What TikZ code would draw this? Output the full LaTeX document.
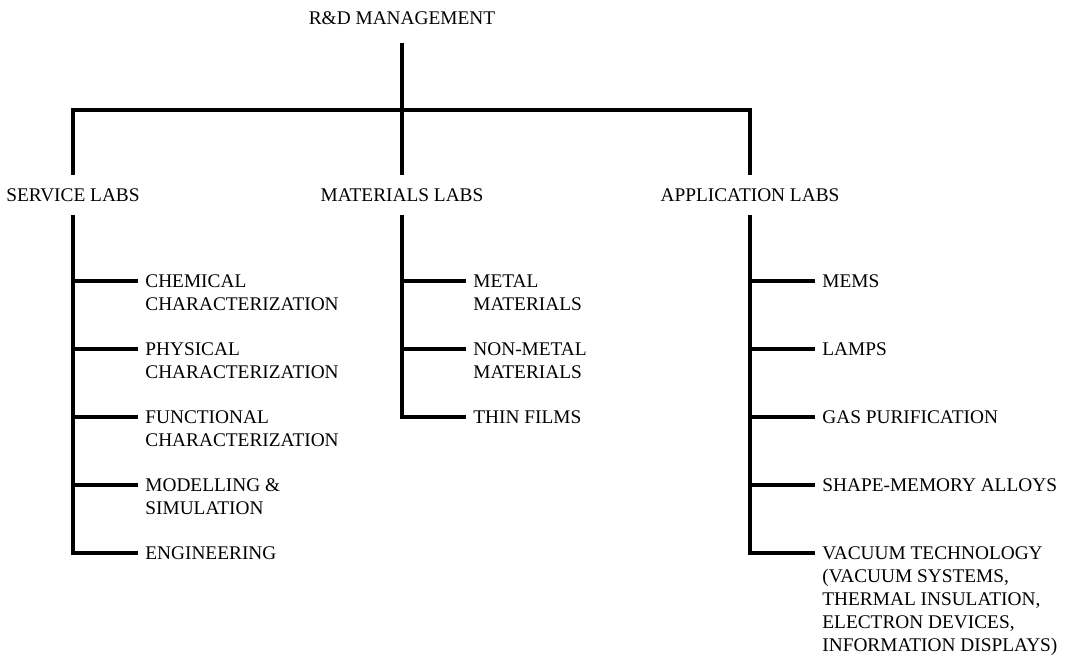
\documentclass[tikz,border=0pt]{standalone}
\usepackage{fontspec}
\setmainfont{Liberation Serif}
\usepackage{tikz}

\tikzset{
    head/.style={font=\fontsize{11}{13}\selectfont, text height=7.3pt, text depth=0pt, inner xsep=2pt, inner ysep=7.7pt},
    unit/.style={font=\fontsize{11}{13}\selectfont, align=left, anchor=north west, yshift=3.65pt, inner xsep=4pt, inner ysep=0pt},
    trunk/.style={line width=2.7pt, line join=miter},
    twig/.style={line width=2.1pt}
}

\begin{document}
\begin{tikzpicture}
        \useasboundingbox (0,0) rectangle (21.56,-13.1);
        % Management and the three lab groups
        \node[head, inner ysep=10.5pt] (root) at (8.04,-0.36) {R\&D MANAGEMENT};
        \node[head] (serv) at (1.46,-3.9) {SERVICE LABS};
        \node[head] (mat) at (8.04,-3.9) {MATERIALS LABS};
        \node[head] (app) at (15.0,-3.9) {APPLICATION LABS};
        \coordinate (bar) at (8.04,-2.2);
        \draw[trunk] (root) -- (mat);
        \draw[trunk] (serv) |- (bar) -| (app);

        % Service labs
        \node[unit] (chem) at (2.76,-5.62) {CHEMICAL\\CHARACTERIZATION};
        \node[unit] (phys) at (2.76,-6.98) {PHYSICAL\\CHARACTERIZATION};
        \node[unit] (func) at (2.76,-8.34) {FUNCTIONAL\\CHARACTERIZATION};
        \node[unit] (model) at (2.76,-9.70) {MODELLING \&\\SIMULATION};
        \node[unit] (eng) at (2.76,-11.06) {ENGINEERING};

        % Materials labs
        \node[unit] (metal) at (9.32,-5.62) {METAL\\MATERIALS};
        \node[unit] (nonmetal) at (9.32,-6.98) {NON-METAL\\MATERIALS};
        \node[unit] (films) at (9.32,-8.34) {THIN FILMS};

        % Application labs
        \node[unit] (mems) at (16.30,-5.62) {MEMS};
        \node[unit] (lamps) at (16.30,-6.98) {LAMPS};
        \node[unit] (gas) at (16.30,-8.34) {GAS PURIFICATION};
        \node[unit] (sma) at (16.30,-9.70) {SHAPE-MEMORY ALLOYS};
        \node[unit] (vac) at (16.30,-11.06) {VACUUM TECHNOLOGY\\(VACUUM SYSTEMS,\\THERMAL INSULATION,\\ELECTRON DEVICES,\\INFORMATION DISPLAYS)};

        % Vertical lines down to the last unit
        \draw[trunk] (serv) |- ([yshift=-3.65pt]eng.north west);
        \draw[trunk] (mat) |- ([yshift=-3.65pt]films.north west);
        \draw[trunk] (app) |- ([yshift=-3.65pt]vac.north west);

        % Branches to the other units
        \draw[trunk] ([yshift=-3.65pt]chem.north west) -| (serv);
        \draw[trunk] ([yshift=-3.65pt]metal.north west) -| (mat);
        \draw[trunk] ([yshift=-3.65pt]mems.north west) -| (app);
        \foreach \u in {phys,func,model}
            \draw[twig] ([yshift=-3.65pt]\u.north west) -- ([yshift=-3.65pt]\u.north west -| serv);
        \draw[twig] ([yshift=-3.65pt]nonmetal.north west) -- ([yshift=-3.65pt]nonmetal.north west -| mat);
        \foreach \u in {lamps,gas,sma}
            \draw[twig] ([yshift=-3.65pt]\u.north west) -- ([yshift=-3.65pt]\u.north west -| app);
\end{tikzpicture}
\end{document}
